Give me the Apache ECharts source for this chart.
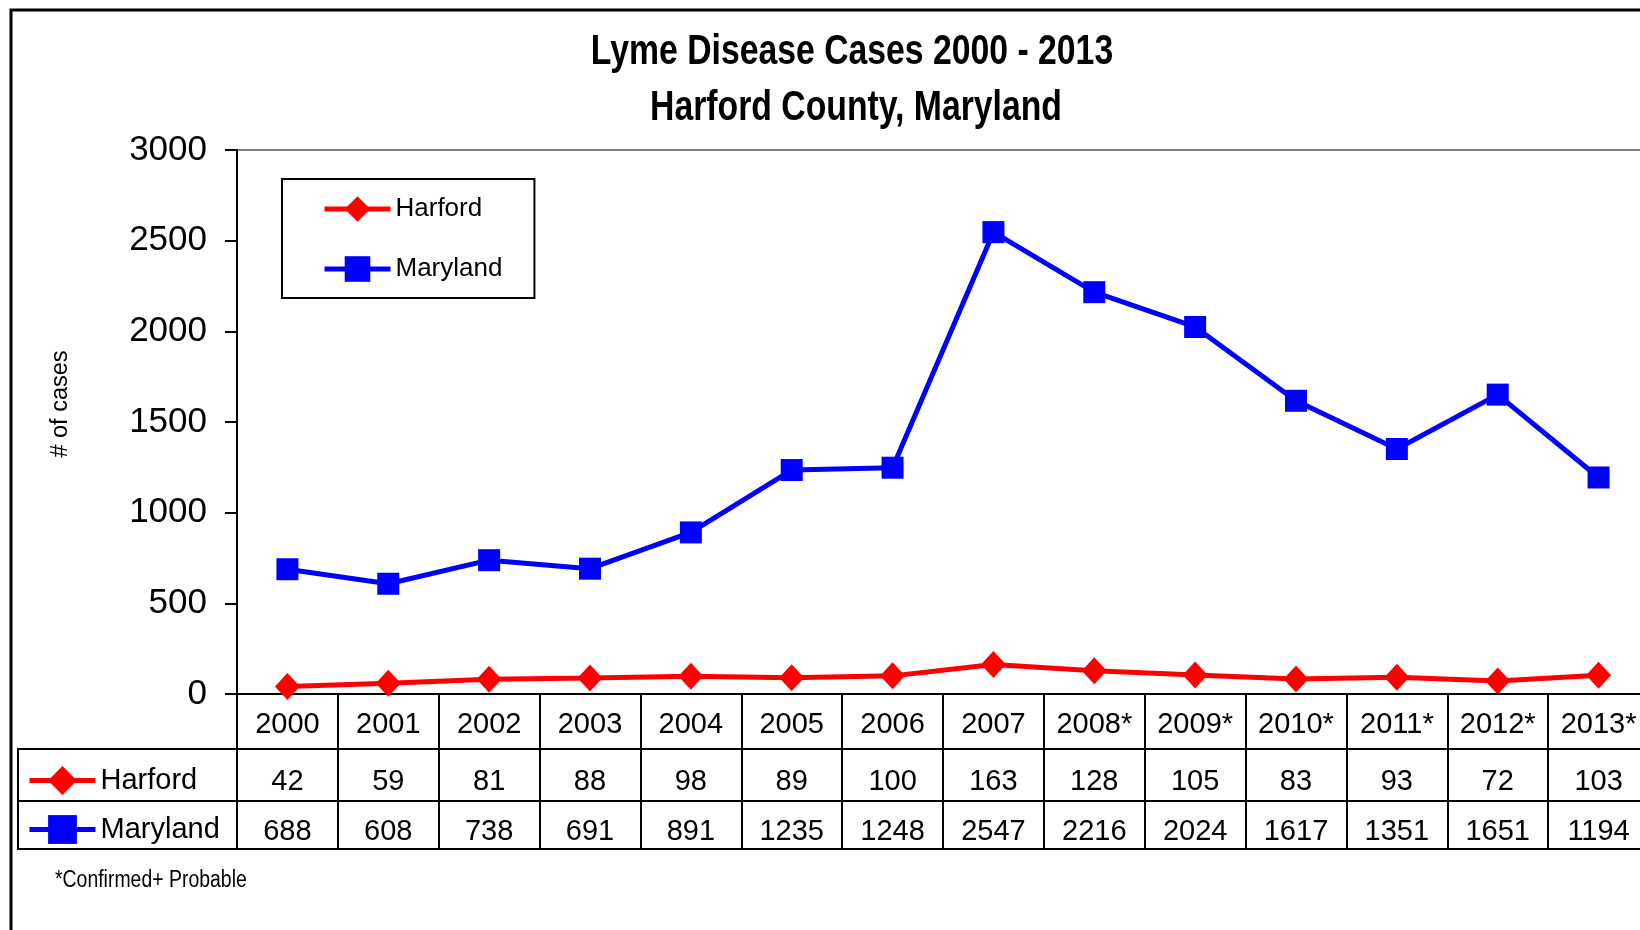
<!DOCTYPE html>
<html>
<head>
<meta charset="utf-8">
<script src="https://cdn.jsdelivr.net/npm/echarts@6/dist/echarts.min.js"></script>
<style>
html,body{margin:0;padding:0;background:#fff;}
#c{width:1640px;height:930px;}
</style>
</head>
<body>
<div id="c"></div>
<script>
// ---- data ----
const years = ['2000','2001','2002','2003','2004','2005','2006','2007','2008*','2009*','2010*','2011*','2012*','2013*'];
const harford = [42, 59, 81, 88, 98, 89, 100, 163, 128, 105, 83, 93, 72, 103];
const maryland = [688, 608, 738, 691, 891, 1235, 1248, 2547, 2216, 2024, 1617, 1351, 1651, 1194];
const seriesNames = ['Harford', 'Maryland'];
const titleLines = ['Lyme Disease Cases 2000 - 2013', 'Harford County, Maryland'];
const yAxisName = '# of cases';
const footnote = '*Confirmed+ Probable';

const SANS = 'Liberation Sans, Arial, sans-serif';

const chart = echarts.init(document.getElementById('c'), null, {renderer: 'canvas'});

const valueAxisCommon = {
  type: 'category',
  gridIndex: 0,
  data: years,
  position: 'bottom',
  axisLine: {show: false},
  axisTick: {show: false},
  splitLine: {show: false}
};

const option = {
  animation: false,
  backgroundColor: '#fff',
  textStyle: {fontFamily: SANS, color: '#000'},
  grid: [
    {left: 237, right: -9, top: 150, bottom: 236, show: true, borderColor: '#808080', borderWidth: 2,
      backgroundColor: 'transparent', containLabel: false, outerBoundsMode: 'none'},
    {left: 237, right: -9, top: 694, bottom: 81, show: false, containLabel: false, outerBoundsMode: 'none'}
  ],
  legend: [
    {
      data: seriesNames,
      orient: 'vertical',
      left: 282, top: 179,
      padding: [17, 32, 16, 40],
      itemGap: 34,
      itemWidth: 66, itemHeight: 32,
      borderColor: '#000', borderWidth: 2,
      selectedMode: false,
      lineStyle: {width: 5},
      textStyle: {fontFamily: SANS, fontSize: 26, color: '#000'}
    },
    {
      data: seriesNames,
      orient: 'vertical',
      left: 27, top: 766,
      padding: 0,
      itemGap: 20,
      itemWidth: 66, itemHeight: 36,
      selectedMode: false,
      lineStyle: {width: 5},
      textStyle: {fontFamily: SANS, fontSize: 29, color: '#000'}
    }
  ],
  xAxis: [
    {
      type: 'category', gridIndex: 0, data: years, position: 'bottom',
      boundaryGap: true,
      axisLine: {show: true, lineStyle: {color: '#000', width: 2}},
      axisTick: {show: false},
      axisLabel: {interval: 0, margin: 30.5, verticalAlign: 'middle', fontSize: 29, color: '#000', fontFamily: SANS},
      splitLine: {show: false}
    },
    Object.assign({}, valueAxisCommon, {
      axisLabel: {interval: 0, margin: 88, verticalAlign: 'middle', fontSize: 29, color: '#000', fontFamily: SANS,
        formatter: (v, i) => String(harford[i])}
    }),
    Object.assign({}, valueAxisCommon, {
      axisLabel: {interval: 0, margin: 137.5, verticalAlign: 'middle', fontSize: 29, color: '#000', fontFamily: SANS,
        formatter: (v, i) => String(maryland[i])}
    }),
    {
      type: 'category', gridIndex: 1, data: years, boundaryGap: true,
      axisLine: {show: false}, axisTick: {show: false}, axisLabel: {show: false},
      splitLine: {show: true, interval: 0, lineStyle: {color: '#000', width: 2}}
    }
  ],
  yAxis: [
    {
      type: 'value', gridIndex: 0, min: 0, max: 3000, interval: 500,
      axisLine: {show: true, lineStyle: {color: '#000', width: 2}},
      axisTick: {show: true, inside: false, length: 12, lineStyle: {color: '#000', width: 2}},
      axisLabel: {margin: 30, fontSize: 35, color: '#000', fontFamily: SANS, formatter: v => String(v)},
      splitLine: {show: false}
    },
    {type: 'value', gridIndex: 1, show: false}
  ],
  series: [
    {
      name: seriesNames[0], type: 'line', xAxisIndex: 0, yAxisIndex: 0,
      data: harford,
      symbol: 'diamond', symbolSize: [25, 27],
      lineStyle: {color: '#ff0000', width: 5},
      itemStyle: {color: '#ff0000'},
      z: 3
    },
    {
      name: seriesNames[1], type: 'line', xAxisIndex: 0, yAxisIndex: 0,
      data: maryland,
      symbol: 'rect', symbolSize: 22,
      lineStyle: {color: '#0000ff', width: 5},
      itemStyle: {color: '#0000ff'},
      z: 4
    }
  ],
  graphic: [
    {type: 'rect', shape: {x: 11, y: 10, width: 1700, height: 1000}, style: {fill: null, stroke: '#000', lineWidth: 3}, silent: true, z: 0},
    {type: 'line', shape: {x1: 18, y1: 749, x2: 1640, y2: 749}, style: {stroke: '#000', lineWidth: 2}, z: 10},
    {type: 'line', shape: {x1: 18, y1: 801, x2: 1640, y2: 801}, style: {stroke: '#000', lineWidth: 2}, z: 10},
    {type: 'line', shape: {x1: 18, y1: 849, x2: 1640, y2: 849}, style: {stroke: '#000', lineWidth: 2}, z: 10},
    {type: 'line', shape: {x1: 18, y1: 748, x2: 18, y2: 850}, style: {stroke: '#000', lineWidth: 2}, z: 10},
    {type: 'text', x: 852, y: 52.5, scaleX: 0.785,
      style: {text: titleLines[0], align: 'center', verticalAlign: 'middle', font: 'bold 43px ' + SANS, fill: '#000'}},
    {type: 'text', x: 856, y: 108.5, scaleX: 0.785,
      style: {text: titleLines[1], align: 'center', verticalAlign: 'middle', font: 'bold 43px ' + SANS, fill: '#000'}},
    {type: 'text', x: 61, y: 404, rotation: Math.PI / 2,
      style: {text: yAxisName, align: 'center', verticalAlign: 'middle', font: '23.5px ' + SANS, fill: '#000'}},
    {type: 'text', x: 55, y: 881, scaleX: 0.845,
      style: {text: footnote, align: 'left', verticalAlign: 'middle', font: '23px ' + SANS, fill: '#000'}}
  ]
};

chart.setOption(option);
</script>
</body>
</html>
